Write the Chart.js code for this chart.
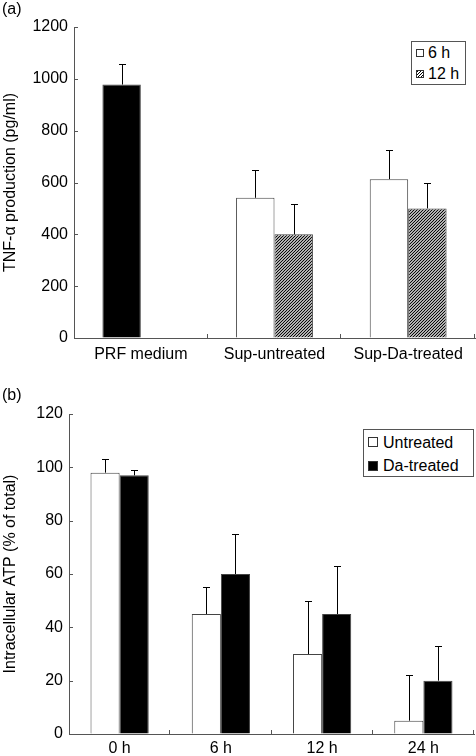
<!DOCTYPE html>
<html>
<head>
<meta charset="utf-8">
<script src="https://cdn.jsdelivr.net/npm/chart.js@4.4.0/dist/chart.umd.min.js"></script>
<style>
  body { margin: 0; background: #fff; font-family: "Liberation Sans", Arial, sans-serif; }
  #page { position: relative; width: 476px; height: 756px; overflow: hidden; }
  .panel { position: absolute; left: 0; }
  .txt { position: absolute; font-size: 16px; line-height: 16px; white-space: nowrap; color: #000; }
  .legend { position: absolute; border: 1px solid #555; box-sizing: border-box; background: #fff; }
  .swatch { position: absolute; box-sizing: border-box; border: 1px solid #333; }
</style>
</head>
<body>
<div id="page">
  <canvas id="chartA" class="panel" width="476" height="370" style="top:0"></canvas>
  <canvas id="chartB" class="panel" width="476" height="386" style="top:370px"></canvas>
</div>
<script>
// panel (a): TNF-alpha production
const categoriesA = ["PRF medium", "Sup-untreated", "Sup-Da-treated"]
const seriesA = ["6 h", "12 h"]
const tnf6h = [978, 541, 613]
const tnf6hErr = [78, 107, 113]
const tnf12h = [null, 400, 500]
const tnf12hErr = [null, 116, 97]
const ticksA = [0, 200, 400, 600, 800, 1000, 1200]

// panel (b): intracellular ATP
const categoriesB = ["0 h", "6 h", "12 h", "24 h"]
const seriesB = ["Untreated", "Da-treated"]
const atpUntreated = [98, 45, 30, 5]
const atpUntreatedErr = [5, 10, 20, 17]
const atpTreated = [97, 60, 45, 20]
const atpTreatedErr = [2, 15, 18, 13]
const ticksB = [0, 20, 40, 60, 80, 100, 120]

const axisColor = "#555"
const barEdge = "#444"

Chart.defaults.font.family = '"Liberation Sans", Arial, sans-serif'
Chart.defaults.font.size = 16
Chart.defaults.color = "#000"

// diagonal hatch used for the 12 h bars
function makeHatch(ctx) {
  const c = document.createElement("canvas")
  c.width = c.height = 3
  const g = c.getContext("2d")
  g.fillStyle = "#fff"
  g.fillRect(0, 0, 3, 3)
  g.strokeStyle = "#000"
  g.lineWidth = 1.2
  g.beginPath()
  g.moveTo(0, 3); g.lineTo(3, 0)
  g.moveTo(-1.5, 1.5); g.lineTo(1.5, -1.5)
  g.moveTo(1.5, 4.5); g.lineTo(4.5, 1.5)
  g.stroke()
  return ctx.createPattern(c, "repeat")
}

// upper error bars, positioned from the bar elements and the y scale
const errorBars = {
  id: "errorBars",
  afterDatasetsDraw(chart) {
    const ctx = chart.ctx
    const y = chart.scales.y
    ctx.save()
    ctx.strokeStyle = "#000"
    ctx.lineWidth = 1
    chart.data.datasets.forEach((ds, i) => {
      chart.getDatasetMeta(i).data.forEach((bar, j) => {
        const v = ds.data[j]
        const e = ds.errors ? ds.errors[j] : null
        if (v == null || e == null) return
        const x = Math.round(bar.x) + 0.5
        const top = Math.round(y.getPixelForValue(v + e)) + 0.5
        ctx.beginPath()
        ctx.moveTo(x, y.getPixelForValue(v))
        ctx.lineTo(x, top)
        ctx.moveTo(x - 3.5, top)
        ctx.lineTo(x + 3.5, top)
        ctx.stroke()
      })
    })
    ctx.restore()
  }
}

// short tick marks pointing into the plot
const inwardTicks = {
  id: "inwardTicks",
  afterDraw(chart) {
    const { ctx, chartArea: a, scales: { x, y } } = chart
    ctx.save()
    ctx.strokeStyle = axisColor
    ctx.lineWidth = 1
    ctx.beginPath()
    y.ticks.forEach(t => {
      const py = Math.round(y.getPixelForValue(t.value)) + 0.5
      ctx.moveTo(a.left, py)
      ctx.lineTo(a.left + 4, py)
    })
    x.ticks.forEach((t, i) => {
      const px = Math.round(x.getPixelForValue(i + 0.5)) - 0.5
      ctx.moveTo(px, a.bottom)
      ctx.lineTo(px, a.bottom - 4)
    })
    ctx.stroke()
    ctx.restore()
  }
}

function buildChart(canvas, cfg) {
  return new Chart(canvas.getContext("2d"), {
    type: "bar",
    data: { labels: cfg.labels, datasets: cfg.datasets },
    options: {
      responsive: false,
      animation: false,
      events: [],
      layout: { padding: cfg.padding },
      datasets: { bar: { categoryPercentage: 0.575, barPercentage: 1, borderWidth: 1, borderColor: barEdge } },
      plugins: { legend: { display: false }, tooltip: { enabled: false } },
      scales: {
        x: {
          grid: { display: true, drawOnChartArea: false, drawTicks: false },
          border: { display: true, color: axisColor, width: 1 },
          ticks: { padding: cfg.xPad, maxRotation: 0, autoSkip: false },
          afterFit: s => { s.height = cfg.xHeight }
        },
        y: {
          min: cfg.ticks[0],
          max: cfg.ticks[cfg.ticks.length - 1],
          grid: { display: true, drawOnChartArea: false, drawTicks: false },
          border: { display: true, color: axisColor, width: 1 },
          ticks: { padding: 6, callback: v => String(v) },
          afterBuildTicks: s => { s.ticks = cfg.ticks.map(v => ({ value: v })) },
          title: { display: true, text: cfg.yTitle, padding: { top: 1, bottom: 0 } },
          afterFit: s => { s.width = cfg.yWidth }
        }
      }
    },
    plugins: [errorBars, inwardTicks]
  })
}

const canvasA = document.getElementById("chartA")
const hatch = makeHatch(canvasA.getContext("2d"))

buildChart(canvasA, {
  labels: categoriesA,
  ticks: ticksA,
  yTitle: "TNF-α production (pg/ml)",
  yWidth: 74,
  xHeight: 32,
  xPad: 7,
  padding: { top: 27, right: 1, left: 0, bottom: 0 },
  datasets: [
    { label: seriesA[0], data: tnf6h, errors: tnf6hErr,
      backgroundColor: c => (c.dataIndex === 0 ? "#000" : "#fff") },
    { label: seriesA[1], data: tnf12h, errors: tnf12hErr, backgroundColor: hatch }
  ]
})

buildChart(document.getElementById("chartB"), {
  labels: categoriesB,
  ticks: ticksB,
  yTitle: "Intracellular ATP (% of total)",
  yWidth: 69,
  xHeight: 22,
  xPad: 5,
  padding: { top: 44, right: 2, left: 0, bottom: 0 },
  datasets: [
    { label: seriesB[0], data: atpUntreated, errors: atpUntreatedErr, backgroundColor: "#fff" },
    { label: seriesB[1], data: atpTreated, errors: atpTreatedErr, backgroundColor: "#000" }
  ]
})

// panel tags and legend boxes (HTML overlays)
const page = document.getElementById("page")
function addText(text, left, top) {
  const s = document.createElement("span")
  s.className = "txt"
  s.textContent = text
  s.style.left = left + "px"
  s.style.top = top + "px"
  page.appendChild(s)
}
function addLegend(box, rows) {
  const d = document.createElement("div")
  d.className = "legend"
  Object.assign(d.style, { left: box[0] + "px", top: box[1] + "px", width: box[2] + "px", height: box[3] + "px" })
  page.appendChild(d)
  rows.forEach(r => {
    const sw = document.createElement("div")
    sw.className = "swatch"
    Object.assign(sw.style, { left: r.sx + "px", top: r.sy + "px", width: r.sw + "px", height: r.sh + "px", background: r.fill })
    page.appendChild(sw)
    addText(r.label, r.tx, r.ty)
  })
}

addText("(a)", 2, 1)
addText("(b)", 2, 387)

addLegend([411, 41, 55, 44], [
  { label: seriesA[0], fill: "#fff", sx: 416, sy: 49, sw: 8, sh: 8, tx: 428, ty: 45 },
  { label: seriesA[1], fill: "repeating-linear-gradient(135deg, #000 0 1px, #fff 1px 2.2px)", sx: 416, sy: 70, sw: 8, sh: 8, tx: 428, ty: 66 }
])

addLegend([363, 429, 111, 48], [
  { label: seriesB[0], fill: "#fff", sx: 368, sy: 437, sw: 10, sh: 10, tx: 383, ty: 435 },
  { label: seriesB[1], fill: "#000", sx: 368, sy: 461, sw: 10, sh: 10, tx: 383, ty: 458 }
])
</script>
</body>
</html>
